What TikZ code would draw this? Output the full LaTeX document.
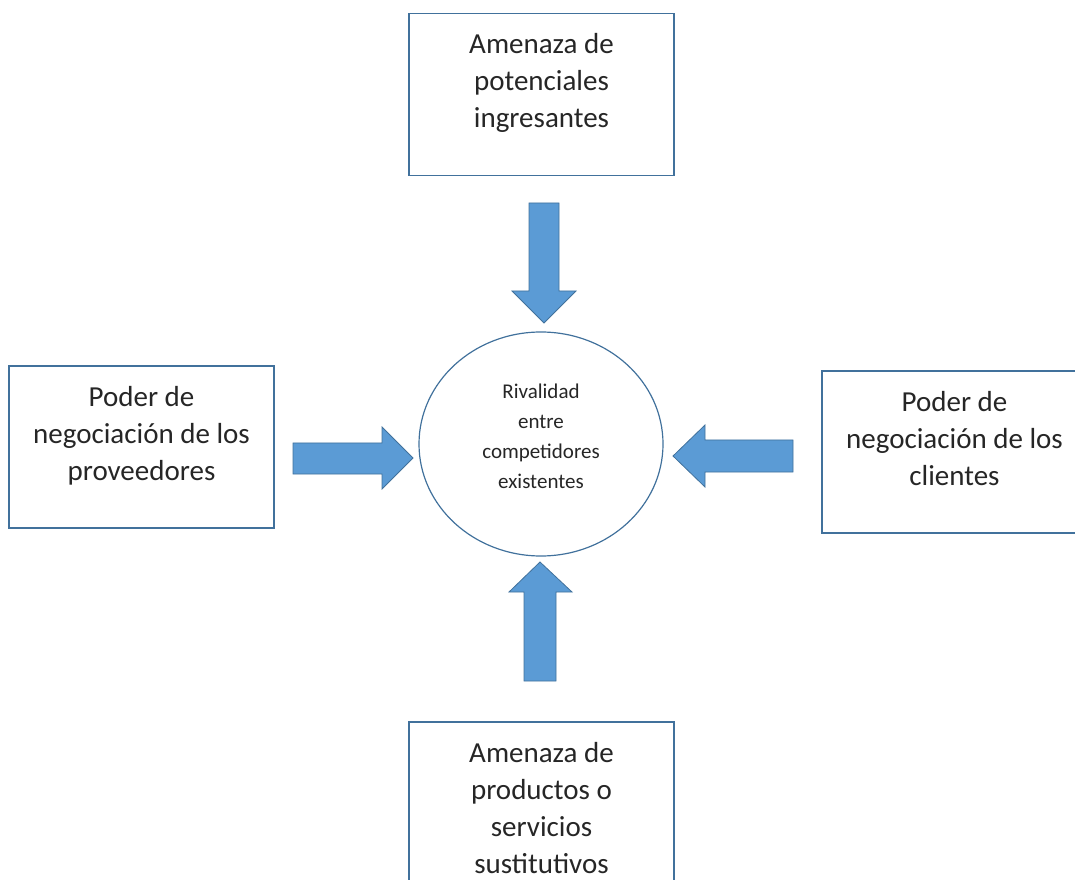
\documentclass[tikz,border=0pt]{standalone}
\usepackage{fontspec}
\setmainfont{Carlito}
\usetikzlibrary{shapes.geometric}
\definecolor{ppt_blue}{RGB}{91, 155, 213}
\definecolor{ppt_edge}{RGB}{65, 113, 156}
\tikzstyle{caja}=[rectangle,draw=ppt_edge,line width=1.5pt,
  minimum width=265pt,minimum height=162pt,inner sep=0pt]
\tikzstyle{cajatxt}=[anchor=north,align=center,inner sep=0pt,
  font=\fontsize{29}{37}\selectfont,text=black!85]
\tikzstyle{rn}=[ellipse,draw=ppt_edge,line width=1.2pt,
  minimum width=244pt,minimum height=224pt,inner sep=0pt]
\tikzstyle{rntxt}=[align=center,inner sep=0pt,
  font=\fontsize{21}{30}\selectfont,text=black!85]
\tikzstyle{flecha}=[fill=ppt_blue,draw=ppt_edge,line width=0.8pt,line join=miter]
\begin{document}
\begin{tikzpicture}[x=1pt,y=1pt]
    \useasboundingbox (0,0) rectangle (1075,879);
    \node [style=caja] (pot) at (541.5,784.5) {};
    \node [style=caja] (prov) at (141.5,432) {};
    \node [style=caja] (cli) at (954.5,427) {};
    \node [style=caja] (sus) at (541.5,76) {};
    \node [style=rn] (riv) at (541,435) {};
    \node [style=cajatxt] (potT) at ([yshift=-20pt]pot.north) {Amenaza de\\potenciales\\ingresantes};
    \node [style=cajatxt] (provT) at ([yshift=-21pt]prov.north) {Poder de\\negociación de los\\proveedores};
    \node [style=cajatxt] (cliT) at ([yshift=-21pt]cli.north) {Poder de\\negociación de los\\clientes};
    \node [style=cajatxt] (susT) at ([yshift=-21pt]sus.north) {Amenaza de\\productos o\\servicios\\sustitutivos};
    \node [style=rntxt] (rivT) at (541,442.5) {Rivalidad\\entre\\competidores\\existentes};
    % flechas hacia el centro
    \filldraw [style=flecha] (529,676) -- (559,676) -- (559,588) -- (576,588) -- (544,556) -- (512,588) -- (529,588) -- cycle;
    \filldraw [style=flecha] (293,436) -- (382,436) -- (382,452) -- (413,421) -- (382,390) -- (382,405) -- (293,405) -- cycle;
    \filldraw [style=flecha] (793,439) -- (705,439) -- (705,454) -- (673,423) -- (705,392) -- (705,407) -- (793,407) -- cycle;
    \filldraw [style=flecha] (524,198) -- (524,287) -- (509,287) -- (540,317) -- (572,287) -- (556,287) -- (556,198) -- cycle;
  \end{tikzpicture}
\end{document}
